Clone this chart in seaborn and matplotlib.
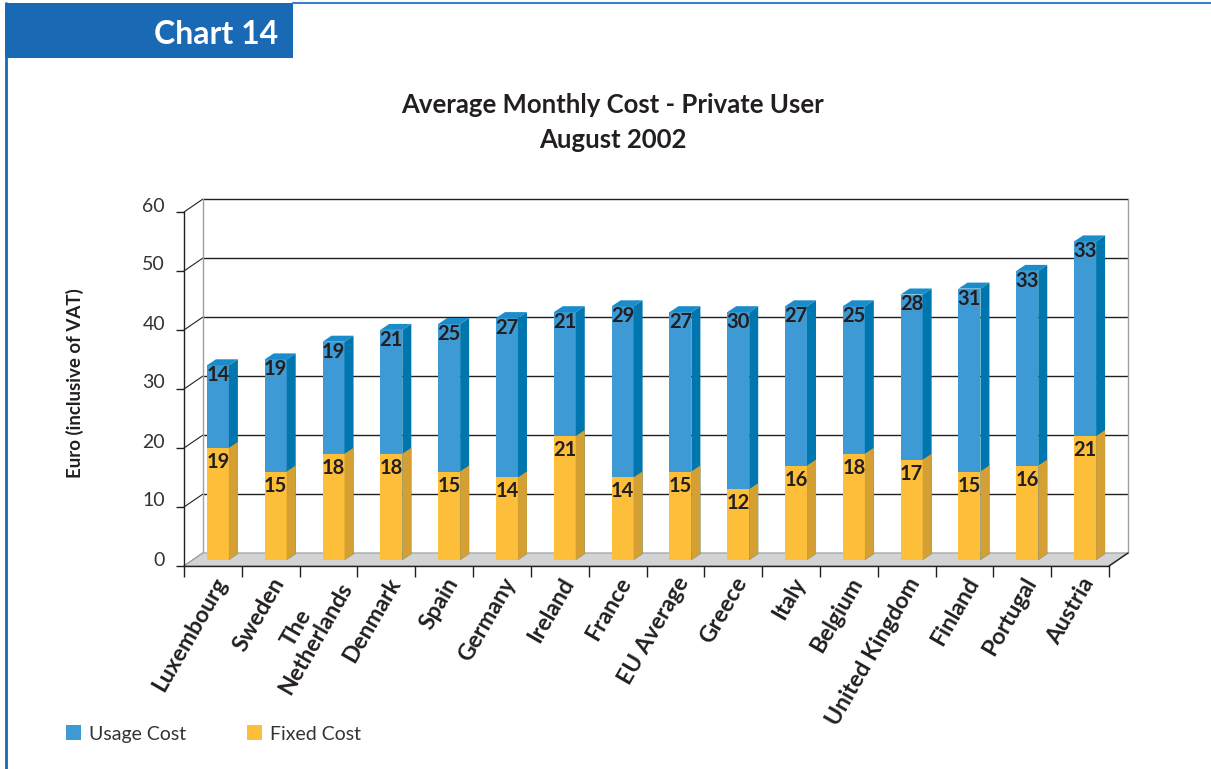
import matplotlib
matplotlib.use("Agg")
import matplotlib.pyplot as plt
from matplotlib.patches import Polygon, Rectangle, Patch
from matplotlib.lines import Line2D
from matplotlib.transforms import offset_copy
import numpy as np
import pandas as pd
import seaborn as sns

countries = ["Luxembourg", "Sweden", "The\nNetherlands", "Denmark", "Spain", "Germany",
             "Ireland", "France", "EU Average", "Greece", "Italy", "Belgium",
             "United Kingdom", "Finland", "Portugal", "Austria"]
fixed_cost = [19, 15, 18, 18, 15, 14, 21, 14, 15, 12, 16, 18, 17, 15, 16, 21]
usage_cost = [14, 19, 19, 21, 25, 27, 21, 29, 27, 30, 27, 25, 28, 31, 33, 33]
y_ticks = [0, 10, 20, 30, 40, 50, 60]

df = pd.DataFrame({"country": countries, "fixed": fixed_cost, "usage": usage_cost})
df["total"] = df["fixed"] + df["usage"]

BLUE, BLUE_SIDE, BLUE_TOP = "#3d9ad5", "#0076ae", "#1a8cca"
YEL, YEL_SIDE = "#fdbe3a", "#d4a033"
INK = "#231f20"
FRAME = "#1a69b4"

sns.set_style("white")
plt.rcParams["font.family"] = ["Lato", "DejaVu Sans"]

W, H = 1211, 769
fig = plt.figure(figsize=(W / 100, H / 100), dpi=100)

# axes = front plane of the fake 3d box
x0, x1, y0, y1 = 184, 1109, 566, 212
ax = fig.add_axes([x0 / W, (H - y0) / H, (x1 - x0) / W, (y0 - y1) / H])

n = len(countries)
sns.barplot(data=df, x="country", y="total", color=BLUE, width=0.38, saturation=1,
            edgecolor="none", linewidth=0, ax=ax)
blue_bars = list(ax.patches)[:n]
sns.barplot(data=df, x="country", y="fixed", color=YEL, width=0.38, saturation=1,
            edgecolor="none", linewidth=0, ax=ax)
yel_bars = list(ax.patches)[n:2 * n]

ax.set_xlim(-0.5, n - 0.5)
ax.set_ylim(0, 60)
ax.set_xlabel("")
ax.set_ylabel("")
for s in ["top", "right"]:
    ax.spines[s].set_visible(False)
for s in ["left", "bottom"]:
    ax.spines[s].set_color(INK)
    ax.spines[s].set_linewidth(1)
ax.patch.set_alpha(0)

px_x = (x1 - x0) / n
px_y = (y0 - y1) / 60.0

# bars sit a bit behind the front plane, wall at the back
bar_t = offset_copy(ax.transData, fig=fig, x=5, y=6, units="dots")
back_dx, back_dy = 19 / px_x, 13 / px_y
dep_dx, dep_dy = 9 / px_x, 6 / px_y

# floor
floor = Polygon([(-0.5, 0), (n - 0.5, 0), (n - 0.5 + back_dx, back_dy), (-0.5 + back_dx, back_dy)],
                closed=True, facecolor="#d1d3d4", edgecolor="#a7a9ac", lw=1, zorder=0.5,
                clip_on=False, transform=ax.transData)
ax.add_patch(floor)

# back wall grid and side edges
for t in y_ticks:
    yb = t + back_dy
    if t > 0:
        ax.plot([-0.5 + back_dx, n - 0.5 + back_dx], [yb, yb], color=INK, lw=1, zorder=0.4, clip_on=False)
    ax.plot([-0.5, -0.5 + back_dx], [t, yb], color=INK, lw=0.8, zorder=0.4, clip_on=False)
ax.plot([-0.5 + back_dx] * 2, [back_dy, 60 + back_dy], color="#a0a0a0", lw=1, zorder=0.4, clip_on=False)
ax.plot([n - 0.5 + back_dx] * 2, [back_dy, 60 + back_dy], color="#a0a0a0", lw=1, zorder=0.4, clip_on=False)
ax.plot([n - 0.5, n - 0.5 + back_dx], [0, back_dy], color=INK, lw=1, zorder=0.6, clip_on=False)

# 3d faces for bars
for bars, side_c, top_c in [(blue_bars, BLUE_SIDE, BLUE_TOP), (yel_bars, YEL_SIDE, None)]:
    for b in bars:
        b.set_transform(bar_t)
        b.set_zorder(2 if top_c else 3)
        b.set_clip_on(False)
        xl, w, h = b.get_x(), b.get_width(), b.get_height()
        xr = xl + w
        side = Polygon([(xr, 0), (xr, h), (xr + dep_dx, h + dep_dy), (xr + dep_dx, dep_dy)],
                       closed=True, facecolor=side_c, edgecolor="none", transform=bar_t,
                       zorder=b.get_zorder(), clip_on=False)
        ax.add_patch(side)
        if top_c:
            top = Polygon([(xl, h), (xr, h), (xr + dep_dx, h + dep_dy), (xl + dep_dx, h + dep_dy)],
                          closed=True, facecolor=top_c, edgecolor="none", transform=bar_t,
                          zorder=b.get_zorder(), clip_on=False)
            ax.add_patch(top)

# value labels
usage_t = offset_copy(ax.transData, fig=fig, x=5, y=6 - 10, units="dots")
fixed_t = offset_copy(ax.transData, fig=fig, x=5, y=6 - 14, units="dots")
for i, row in df.iterrows():
    ax.text(i, row["total"], f"{row['usage']}", transform=usage_t, ha="center", va="center",
            fontsize=14.5, fontweight="bold", color=INK, zorder=5)
    ax.text(i, row["fixed"], f"{row['fixed']}", transform=fixed_t, ha="center", va="center",
            fontsize=14.5, fontweight="bold", color=INK, zorder=5)

# ticks
ax.set_yticks(y_ticks)
ax.set_yticklabels([])
ax.tick_params(axis="y", length=6, width=1, color=INK, direction="out", left=True)
ax.set_xticks(np.arange(-0.5, n, 1), minor=True)
ax.set_xticks(range(n))
ax.set_xticklabels([])
ax.tick_params(axis="x", which="minor", length=8, width=1, color=INK, direction="out", bottom=True)
ax.tick_params(axis="x", which="major", length=0)

ylab_t = offset_copy(ax.transData, fig=fig, x=-19, y=6, units="dots")
for t in y_ticks:
    ax.text(-0.5, t, str(t), transform=ylab_t, ha="right", va="center", fontsize=14,
            color="#333333", clip_on=False)

xlab_t = offset_copy(ax.transData, fig=fig, x=9, y=-13, units="dots")
for i, c in enumerate(countries):
    ax.text(i, 0, c, transform=xlab_t, rotation=60, rotation_mode="anchor", ha="right",
            va="center", multialignment="center", fontsize=16.5, fontweight="bold",
            color=INK, clip_on=False, linespacing=1.0)

# titles and frame
fig.text(75 / W, 1 - 383 / H, "Euro (inclusive of VAT)", rotation=90, ha="center", va="center",
         fontsize=13.5, fontweight="bold", color=INK)
fig.text(613 / W, 1 - 105 / H, "Average Monthly Cost - Private User", ha="center", va="center",
         fontsize=18.5, fontweight="bold", color=INK)
fig.text(613 / W, 1 - 140 / H, "August 2002", ha="center", va="center",
         fontsize=18.5, fontweight="bold", color=INK)

fig.patches.append(Rectangle((5 / W, 1 - 58 / H), 288 / W, 55 / H, transform=fig.transFigure,
                             facecolor=FRAME, edgecolor="none"))
fig.text(278 / W, 1 - 34 / H, "Chart 14", ha="right", va="center", fontsize=23,
         fontweight="bold", color="white")
fig.lines.append(Line2D([293 / W, 1], [1 - 3 / H, 1 - 3 / H], transform=fig.transFigure,
                        color="#3b7fc4", lw=1.5))
fig.lines.append(Line2D([5.5 / W, 5.5 / W], [0, 1 - 3 / H], transform=fig.transFigure,
                        color=FRAME, lw=2))

handles = [Patch(facecolor=BLUE, edgecolor="none", label="Usage Cost"),
           Patch(facecolor=YEL, edgecolor="none", label="Fixed Cost")]
fig.legend(handles=handles, loc="center left", bbox_to_anchor=(66 / W, 1 - 734 / H), ncol=2,
           frameon=False, fontsize=14, handlelength=0.78, handleheight=0.78,
           handletextpad=0.42, columnspacing=3.1, borderpad=0, borderaxespad=0,
           labelcolor="#333333")

fig.savefig("out.png", dpi=100)
